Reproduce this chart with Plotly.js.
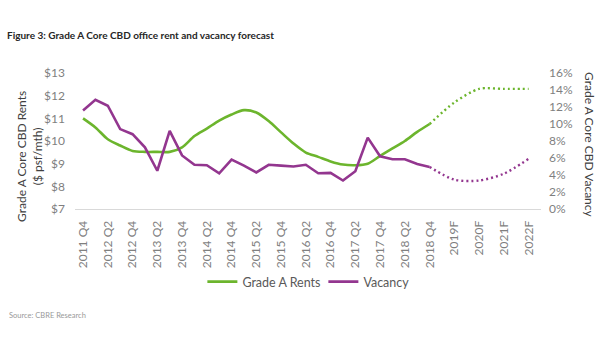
<!DOCTYPE html>
<html>
<head>
<meta charset="utf-8">
<script src="https://cdn.plot.ly/plotly-3.0.1.min.js"></script>
<style>html,body{margin:0;padding:0;background:#fff;}#chart{width:600px;height:360px;}</style>
</head>
<body>
<div id="chart"></div>
<script>
// ---- data ----
var quarterLabels = ['2011 Q4','2012 Q1','2012 Q2','2012 Q3','2012 Q4','2013 Q1','2013 Q2','2013 Q3','2013 Q4',
  '2014 Q1','2014 Q2','2014 Q3','2014 Q4','2015 Q1','2015 Q2','2015 Q3','2015 Q4','2016 Q1','2016 Q2','2016 Q3',
  '2016 Q4','2017 Q1','2017 Q2','2017 Q3','2017 Q4','2018 Q1','2018 Q2','2018 Q3','2018 Q4'];
var rents = [11.0,10.6,10.08,9.8,9.56,9.52,9.52,9.52,9.72,10.22,10.55,10.9,11.17,11.36,11.26,10.88,10.38,9.89,9.49,9.3,
  9.1,8.96,8.93,9.0,9.34,9.67,10.0,10.4,10.75];
var vacancy = [11.6,12.85,12.15,9.4,8.8,7.25,4.5,9.2,6.3,5.2,5.15,4.2,5.8,5.1,4.3,5.2,5.1,5.0,5.2,4.2,
  4.25,3.35,4.45,8.4,6.2,5.85,5.85,5.3,4.95];
var forecastLabels = ['2019F','2020F','2021F','2022F'];
var rentForecast = [11.7,12.3,12.3,12.3];
var vacancyForecast = [3.45,3.35,4.15,5.9];

var green = '#6cb52d', purple = '#93368f';

// positions: one unit per quarter, forecasts every two quarters after the last actual
var xq = quarterLabels.map(function(_, i){ return i; });
var last = xq.length - 1;
var xf = [last].concat(forecastLabels.map(function(_, k){ return last + 2*(k+1); }));

var tickvals = [], ticktext = [];
quarterLabels.forEach(function(l, i){ if (i % 2 === 0) { tickvals.push(i); ticktext.push(l); } });
forecastLabels.forEach(function(l, k){ tickvals.push(last + 2*(k+1)); ticktext.push(l); });

var FONT = 'Lato, "Noto Sans", sans-serif';

var traces = [
  {x: xq, y: rents, name: 'Grade A Rents', type: 'scatter', mode: 'lines',
   line: {color: green, width: 2.6, shape: 'spline', smoothing: 0.8}, yaxis: 'y'},
  {x: xq, y: vacancy, name: 'Vacancy', type: 'scatter', mode: 'lines',
   line: {color: purple, width: 2.6}, yaxis: 'y2'},
  {x: xf, y: [rents[last]].concat(rentForecast), showlegend: false, type: 'scatter', mode: 'lines',
   line: {color: green, width: 2.4, dash: '2px,3px', shape: 'spline', smoothing: 0.8}, yaxis: 'y', hoverinfo: 'skip'},
  {x: xf, y: [vacancy[last]].concat(vacancyForecast), showlegend: false, type: 'scatter', mode: 'lines',
   line: {color: purple, width: 2.4, dash: '2px,3px', shape: 'spline', smoothing: 0.8}, yaxis: 'y2', hoverinfo: 'skip'}
];

var layout = {
  width: 600, height: 360,
  margin: {l: 75, r: 59, t: 73, b: 151, pad: 0},
  paper_bgcolor: '#fff', plot_bgcolor: '#fff',
  font: {family: FONT, size: 12, color: '#7f7f7f'},
  showlegend: true,
  title: {text: '<b>Figure 3: Grade A Core CBD office rent and vacancy forecast</b>',
    font: {family: FONT, size: 10, color: '#262626'},
    x: 7/600, xref: 'container', xanchor: 'left', y: 1 - 35/360, yref: 'container', yanchor: 'middle'},
  xaxis: {range: [-0.65, 37.0], tickvals: tickvals, ticktext: ticktext, tickangle: -90,
    showgrid: false, zeroline: false, showline: true, linecolor: '#d9d9d9', linewidth: 1,
    ticks: '', ticklabelstandoff: 6, tickfont: {size: 12, color: '#7f7f7f'}},
  yaxis: {range: [7, 13], dtick: 1, tickprefix: '$', showgrid: false, zeroline: false, showline: false,
    ticks: '', ticklabelstandoff: 9, tickfont: {size: 12, color: '#7f7f7f'}},
  yaxis2: {range: [0, 16], dtick: 2, ticksuffix: '%', overlaying: 'y', side: 'right', showgrid: false,
    zeroline: false, showline: false, ticks: '', ticklabelstandoff: 7, tickfont: {size: 12, color: '#7f7f7f'}},
  legend: {orientation: 'h', x: 0.533, xanchor: 'center', y: -0.537, yanchor: 'middle',
    entrywidth: 76, entrywidthmode: 'pixels',
    font: {size: 12.5, color: '#595959'}, bgcolor: 'rgba(0,0,0,0)'},
  annotations: [
    {text: 'Grade A Core CBD Rents<br>($ psf/mth)', textangle: -90, xref: 'paper', yref: 'paper',
     x: (29 - 75)/466, y: (209 - 157)/136, xanchor: 'center', yanchor: 'middle', showarrow: false,
     font: {size: 12, color: '#404040'}},
    {text: 'Grade A Core CBD Vacancy', textangle: 90, xref: 'paper', yref: 'paper',
     x: (590 - 75)/466, y: (209 - 145)/136, xanchor: 'center', yanchor: 'middle', showarrow: false,
     font: {size: 12, color: '#404040'}},
    {text: 'Source: CBRE Research', xref: 'paper', yref: 'paper',
     x: (7 - 75)/466, y: (209 - 315)/136, xanchor: 'left', yanchor: 'middle', showarrow: false,
     font: {size: 7.5, color: '#999999'}}
  ]
};

Plotly.newPlot('chart', traces, layout, {displayModeBar: false, staticPlot: true});
</script>
</body>
</html>
